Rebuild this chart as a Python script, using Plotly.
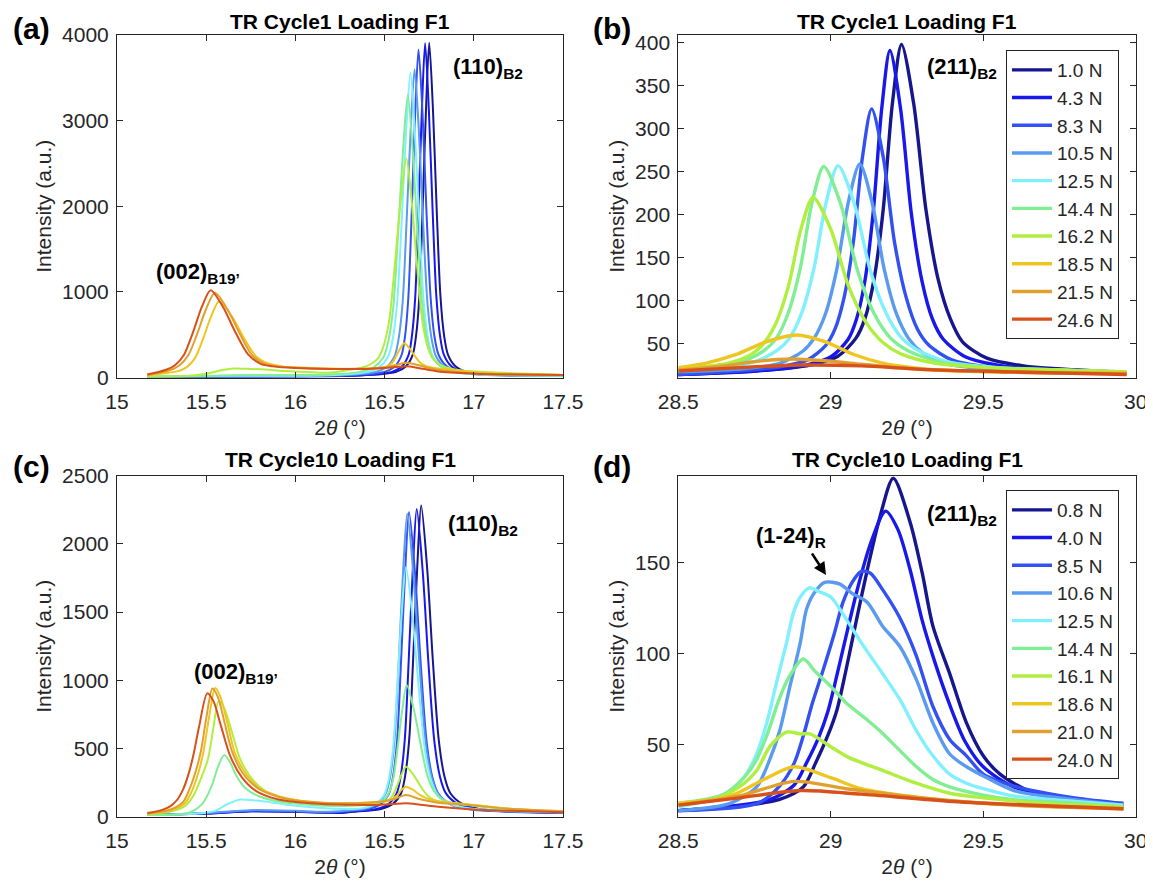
import plotly.graph_objects as go

FONT = "Liberation Sans, Arial, Helvetica, sans-serif"
PAGE_OFF = 8            # the page body margin shifts the figure by this many pixels
W, H = 1153 - PAGE_OFF, 883 - PAGE_OFF

COLORS = ["#16168f", "#1818ec", "#3350f0", "#5a9aef", "#80f0ff",
          "#80ee92", "#b0ee40", "#eec622", "#e0a030", "#d8501a"]
LOADS_B = ["1.0 N", "4.3 N", "8.3 N", "10.5 N", "12.5 N", "14.4 N", "16.2 N", "18.5 N", "21.5 N", "24.6 N"]
LOADS_D = ["0.8 N", "4.0 N", "8.5 N", "10.6 N", "12.5 N", "14.4 N", "16.1 N", "18.6 N", "21.0 N", "24.0 N"]

# ---------------- panel (a): TR Cycle1, 15-17.5 deg ----------------
A0_X = [15.17, 15.5, 16.0, 16.3, 16.454, 16.565, 16.62, 16.658, 16.676, 16.695, 16.713, 16.732, 16.75, 16.771, 16.792, 16.813, 16.834, 16.855, 16.897, 16.96, 17.086, 17.5]
A0_Y = [5, 8, 12, 20, 34, 66, 132, 268, 482, 950, 1963, 3131, 3910, 3131, 1963, 950, 482, 268, 132, 66, 34, 20]
A1_X = [15.17, 15.5, 16.0, 16.3, 16.431, 16.542, 16.598, 16.635, 16.653, 16.672, 16.69, 16.709, 16.727, 16.748, 16.769, 16.79, 16.811, 16.832, 16.874, 16.937, 17.063, 17.5]
A1_Y = [5, 8, 12, 20, 34, 66, 132, 268, 482, 950, 1960, 3127, 3905, 3127, 1960, 950, 482, 268, 132, 66, 34, 20]
A2_X = [15.17, 15.5, 16.0, 16.25, 16.386, 16.5, 16.557, 16.595, 16.614, 16.633, 16.652, 16.671, 16.69, 16.713, 16.735, 16.758, 16.78, 16.803, 16.848, 16.915, 17.05, 17.5]
A2_Y = [6, 10, 15, 22, 34, 65, 130, 263, 473, 931, 1923, 3067, 3830, 3067, 1923, 931, 473, 263, 130, 65, 34, 20]
A3_X = [15.17, 15.5, 16.0, 16.2, 16.308, 16.443, 16.511, 16.556, 16.578, 16.601, 16.623, 16.646, 16.668, 16.692, 16.716, 16.74, 16.764, 16.788, 16.836, 16.908, 17.052, 17.5]
A3_Y = [6, 12, 18, 24, 33, 62, 123, 248, 445, 875, 1808, 2883, 3600, 2883, 1808, 875, 445, 248, 123, 62, 33, 20]
A4_X = [15.17, 15.6, 16.0, 16.245, 16.395, 16.47, 16.52, 16.545, 16.57, 16.595, 16.62, 16.645, 16.67, 16.695, 16.72, 16.745, 16.77, 16.82, 16.895, 17.045, 17.5]
A4_Y = [5, 20, 20, 33, 61, 121, 245, 440, 866, 1788, 2851, 3560, 2851, 1788, 866, 440, 245, 121, 61, 33, 20]
A5_X = [15.17, 15.5, 15.7, 16.0, 16.19, 16.355, 16.438, 16.493, 16.52, 16.548, 16.575, 16.603, 16.63, 16.658, 16.685, 16.713, 16.74, 16.768, 16.823, 16.905, 17.07, 17.5]
A5_Y = [8, 18, 30, 28, 36, 63, 118, 233, 414, 807, 1660, 2644, 3300, 2644, 1660, 807, 414, 233, 118, 63, 36, 22]
A6_X = [15.17, 15.4, 15.5, 15.6, 15.65, 15.75, 15.85, 15.95, 16.1, 16.2, 16.297, 16.395, 16.46, 16.492, 16.525, 16.557, 16.59, 16.622, 16.652, 16.682, 16.712, 16.742, 16.772, 16.832, 16.922, 17.1, 17.5]
A6_Y = [10, 20, 45, 90, 105, 100, 90, 75, 60, 58, 88, 130, 218, 355, 655, 1305, 2055, 2560, 2055, 1305, 655, 355, 218, 130, 85, 60, 30]
A7_X = [15.17, 15.258, 15.348, 15.393, 15.438, 15.483, 15.528, 15.573, 15.643, 15.713, 15.783, 15.853, 15.93, 16.0, 16.2, 16.35, 16.475, 16.52, 16.543, 16.565, 16.588, 16.61, 16.64, 16.67, 16.7, 16.73, 16.79, 16.9, 17.05, 17.25, 17.5]
A7_Y = [25, 47, 77, 124, 229, 455, 716, 890, 716, 455, 240, 160, 130, 120, 105, 100, 109, 136, 172, 250, 340, 400, 340, 250, 172, 136, 109, 85, 55, 38, 30]
A8_X = [15.17, 15.299, 15.349, 15.399, 15.449, 15.499, 15.549, 15.619, 15.689, 15.759, 15.829, 15.9, 16.0, 16.2, 16.4, 16.5, 16.57, 16.62, 16.68, 16.75, 16.85, 17.0, 17.2, 17.5]
A8_Y = [30, 88, 141, 257, 507, 797, 990, 797, 507, 257, 160, 130, 115, 100, 105, 120, 150, 171, 150, 110, 75, 50, 38, 30]
A9_X = [15.17, 15.275, 15.325, 15.375, 15.425, 15.475, 15.525, 15.595, 15.665, 15.735, 15.805, 15.875, 16.0, 16.2, 16.4, 16.5, 16.58, 16.62, 16.68, 16.8, 17.0, 17.2, 17.5]
A9_Y = [35, 90, 144, 264, 522, 821, 1020, 821, 522, 270, 160, 130, 110, 100, 100, 110, 125, 130, 115, 70, 45, 35, 30]

# ---------------- panel (b): TR Cycle1, 28.5-30 deg ----------------
B0_X = [28.5, 28.752, 28.932, 29.022, 29.082, 29.112, 29.142, 29.172, 29.202, 29.232, 29.272, 29.312, 29.352, 29.392, 29.432, 29.512, 29.632, 29.872, 29.97]
B0_Y = [14, 18, 25, 35, 56, 79, 125, 206, 329, 398, 329, 206, 125, 79, 52, 33, 24, 18, 16]
B1_X = [28.5, 28.754, 28.919, 29.002, 29.057, 29.084, 29.112, 29.139, 29.167, 29.194, 29.229, 29.264, 29.299, 29.334, 29.369, 29.439, 29.544, 29.754, 29.97]
B1_Y = [14, 18, 25, 35, 55, 78, 123, 202, 323, 391, 323, 202, 123, 78, 55, 35, 25, 18, 16]
B2_X = [28.5, 28.654, 28.834, 28.924, 28.984, 29.014, 29.044, 29.074, 29.104, 29.134, 29.172, 29.209, 29.247, 29.284, 29.322, 29.397, 29.509, 29.734, 29.97]
B2_Y = [14, 17, 23, 31, 48, 67, 104, 168, 267, 323, 267, 168, 104, 67, 48, 31, 23, 17, 15]
B3_X = [28.5, 28.72, 28.833, 28.908, 28.945, 28.983, 29.02, 29.058, 29.095, 29.135, 29.175, 29.215, 29.255, 29.295, 29.375, 29.495, 29.735, 29.97]
B3_Y = [17, 21, 27, 41, 56, 85, 137, 215, 259, 215, 137, 85, 56, 41, 27, 21, 17, 15]
B4_X = [28.5, 28.624, 28.744, 28.824, 28.864, 28.904, 28.944, 28.984, 29.024, 29.077, 29.129, 29.182, 29.234, 29.287, 29.392, 29.549, 29.864, 29.97]
B4_Y = [19, 22, 28, 42, 56, 85, 136, 213, 257, 213, 136, 85, 56, 42, 28, 22, 18, 17]
B5_X = [28.5, 28.587, 28.704, 28.782, 28.821, 28.86, 28.899, 28.938, 28.977, 29.032, 29.087, 29.142, 29.197, 29.252, 29.362, 29.527, 29.857, 29.97]
B5_Y = [20, 22, 28, 42, 56, 85, 136, 213, 256, 213, 136, 85, 56, 42, 28, 22, 18, 17]
B6_X = [28.5, 28.542, 28.662, 28.742, 28.782, 28.822, 28.862, 28.902, 28.942, 29.0, 29.057, 29.115, 29.172, 29.23, 29.345, 29.517, 29.862, 29.97]
B6_Y = [20, 22, 27, 38, 51, 75, 118, 183, 220, 183, 118, 75, 51, 38, 27, 22, 18, 17]
B7_X = [28.5, 28.588, 28.688, 28.788, 28.888, 28.983, 29.078, 29.173, 29.268, 29.363, 29.553, 29.75, 29.97]
B7_Y = [22, 27, 37, 52, 60, 52, 37, 27, 22, 19, 17, 16, 16]
B8_X = [28.5, 28.65, 28.75, 28.87, 28.98, 29.1, 29.25, 29.45, 29.7, 29.97]
B8_Y = [19, 24, 29, 32, 30, 26, 21, 18, 16, 15]
B9_X = [28.5, 28.7, 28.9, 29.1, 29.3, 29.6, 29.97]
B9_Y = [18, 22, 25, 24, 20, 17, 14]

# ---------------- panel (c): TR Cycle10, 15-17.5 deg ----------------
C0_X = [15.17, 15.5, 15.75, 16.0, 16.25, 16.345, 16.48, 16.548, 16.593, 16.615, 16.638, 16.66, 16.683, 16.705, 16.738, 16.77, 16.803, 16.835, 16.868, 16.933, 17.03, 17.225, 17.5]
C0_Y = [15, 25, 42, 38, 30, 41, 59, 98, 176, 300, 570, 1155, 1830, 2280, 1830, 1155, 570, 300, 176, 98, 59, 41, 32]
C1_X = [15.17, 15.5, 15.75, 16.0, 16.25, 16.32, 16.455, 16.523, 16.568, 16.59, 16.613, 16.635, 16.658, 16.68, 16.713, 16.745, 16.778, 16.81, 16.843, 16.908, 17.005, 17.2, 17.5]
C1_Y = [15, 25, 42, 38, 30, 41, 59, 97, 175, 297, 564, 1142, 1810, 2255, 1810, 1142, 564, 297, 175, 97, 59, 41, 32]
C2_X = [15.17, 15.5, 15.75, 16.0, 16.2, 16.277, 16.412, 16.48, 16.525, 16.547, 16.57, 16.592, 16.615, 16.637, 16.67, 16.702, 16.735, 16.767, 16.8, 16.865, 16.962, 17.157, 17.5]
C2_Y = [15, 28, 45, 40, 33, 41, 59, 96, 173, 294, 558, 1131, 1792, 2232, 1792, 1131, 558, 294, 173, 96, 59, 41, 32]
C3_X = [15.17, 15.5, 15.75, 16.0, 16.15, 16.243, 16.387, 16.459, 16.507, 16.531, 16.555, 16.579, 16.603, 16.627, 16.661, 16.695, 16.729, 16.763, 16.797, 16.865, 16.967, 17.171, 17.5]
C3_Y = [15, 30, 50, 45, 38, 43, 60, 98, 174, 295, 557, 1126, 1782, 2220, 1782, 1126, 557, 295, 174, 98, 60, 43, 33]
C4_X = [15.17, 15.45, 15.55, 15.62, 15.69, 15.78, 15.9, 16.0, 16.15, 16.3, 16.37, 16.445, 16.495, 16.52, 16.545, 16.57, 16.595, 16.62, 16.656, 16.692, 16.728, 16.764, 16.8, 16.872, 16.98, 17.2, 17.5]
C4_Y = [15, 25, 45, 95, 128, 120, 100, 82, 65, 58, 63, 94, 156, 255, 470, 935, 1472, 1830, 1472, 935, 470, 255, 156, 94, 63, 45, 35]
C5_X = [15.17, 15.4, 15.48, 15.53, 15.57, 15.6, 15.63, 15.67, 15.72, 15.8, 15.9, 16.0, 16.2, 16.35, 16.449, 16.499, 16.524, 16.549, 16.574, 16.599, 16.624, 16.664, 16.704, 16.744, 16.784, 16.824, 16.904, 17.0, 17.2, 17.5]
C5_Y = [15, 30, 100, 226, 380, 453, 410, 300, 210, 150, 115, 98, 80, 85, 97, 128, 177, 285, 518, 786, 965, 786, 518, 285, 177, 128, 97, 82, 55, 40]
C6_X = [15.17, 15.3, 15.38, 15.43, 15.47, 15.51, 15.54, 15.57, 15.6, 15.64, 15.69, 15.75, 15.82, 15.9, 16.0, 16.15, 16.3, 16.45, 16.52, 16.545, 16.57, 16.595, 16.62, 16.66, 16.7, 16.74, 16.78, 16.82, 16.9, 17.0, 17.2, 17.5]
C6_Y = [20, 40, 80, 160, 280, 425, 650, 850, 800, 640, 425, 290, 200, 150, 120, 100, 95, 105, 123, 157, 229, 312, 368, 312, 229, 157, 123, 108, 98, 88, 60, 42]
C7_X = [15.17, 15.3, 15.38, 15.42, 15.455, 15.484, 15.515, 15.55, 15.58, 15.62, 15.66, 15.72, 15.8, 15.9, 16.0, 16.15, 16.3, 16.45, 16.52, 16.57, 16.595, 16.62, 16.66, 16.7, 16.75, 16.82, 16.9, 17.0, 17.2, 17.5]
C7_Y = [22, 45, 100, 190, 320, 472, 720, 945, 880, 680, 472, 320, 210, 155, 125, 105, 100, 110, 117, 158, 200, 222, 198, 160, 130, 112, 100, 88, 60, 42]
C8_X = [15.17, 15.3, 15.37, 15.405, 15.44, 15.47, 15.5, 15.535, 15.565, 15.605, 15.645, 15.705, 15.79, 15.9, 16.0, 16.15, 16.3, 16.45, 16.55, 16.62, 16.7, 16.8, 16.9, 17.0, 17.2, 17.5]
C8_Y = [25, 55, 110, 200, 330, 480, 720, 940, 880, 680, 480, 320, 210, 150, 122, 105, 100, 108, 130, 161, 130, 105, 95, 85, 60, 40]
C9_X = [15.17, 15.25, 15.3, 15.34, 15.37, 15.4, 15.428, 15.46, 15.506, 15.54, 15.58, 15.633, 15.7, 15.78, 15.9, 16.0, 16.15, 16.3, 16.45, 16.55, 16.62, 16.7, 16.8, 17.0, 17.2, 17.5]
C9_Y = [30, 50, 80, 130, 200, 310, 452, 660, 905, 850, 680, 452, 290, 190, 130, 110, 95, 90, 88, 95, 100, 90, 75, 55, 45, 35]

# ---------------- panel (d): TR Cycle10, 28.5-30 deg ----------------
D0_X = [28.5, 28.67, 28.83, 28.91, 28.95, 28.99, 29.02, 29.05, 29.085, 29.12, 29.16, 29.205, 29.26, 29.3, 29.335, 29.39, 29.445, 29.5, 29.555, 29.66, 29.83, 29.96]
D0_Y = [14, 16, 20, 27, 40, 55, 69, 91, 119, 146, 174, 196, 172, 144, 115, 89, 62, 44, 34, 24, 19, 17]
D1_X = [28.5, 28.65, 28.8, 28.88, 28.92, 28.96, 28.99, 29.02, 29.055, 29.09, 29.13, 29.18, 29.22, 29.26, 29.3, 29.34, 29.39, 29.44, 29.5, 29.6, 29.8, 29.96]
D1_Y = [14, 16, 20, 28, 40, 54, 68, 88, 113, 137, 160, 178, 168, 146, 118, 96, 72, 52, 38, 27, 20, 17]
D2_X = [28.5, 28.76, 28.83, 28.88, 28.91, 28.94, 28.975, 29.01, 29.04, 29.07, 29.1, 29.13, 29.17, 29.225, 29.28, 29.335, 29.39, 29.445, 29.5, 29.61, 29.8, 29.96]
D2_Y = [14, 18, 27, 40, 55, 73, 91, 110, 128, 139, 145, 144, 135, 120, 99, 71, 53, 44, 34, 27, 21, 18]
D3_X = [28.5, 28.67, 28.757, 28.8, 28.833, 28.866, 28.9, 28.92, 28.945, 28.98, 29.03, 29.07, 29.12, 29.17, 29.226, 29.28, 29.335, 29.39, 29.445, 29.5, 29.6, 29.8, 29.96]
D3_Y = [14, 18, 27, 42, 58, 82, 106, 124, 133, 139, 138, 133, 128, 115, 104, 86, 62, 45, 38, 33, 25, 20, 17]
D4_X = [28.5, 28.64, 28.71, 28.757, 28.79, 28.822, 28.855, 28.877, 28.9, 28.93, 28.96, 29.0, 29.05, 29.1, 29.17, 29.226, 29.28, 29.335, 29.39, 29.445, 29.5, 29.6, 29.8, 29.96]
D4_Y = [16, 22, 31, 45, 62, 84, 106, 122, 131, 136, 134, 131, 119, 106, 89, 75, 58, 44, 34, 29, 26, 22, 19, 17]
D5_X = [28.5, 28.65, 28.72, 28.757, 28.79, 28.833, 28.866, 28.91, 28.95, 29.0, 29.05, 29.117, 29.172, 29.226, 29.281, 29.335, 29.39, 29.5, 29.6, 29.8, 29.96]
D5_Y = [18, 23, 33, 42, 55, 76, 88, 97, 90, 82, 73, 64, 56, 47, 38, 31, 27, 22.5, 20, 18, 16]
D6_X = [28.5, 28.615, 28.7, 28.757, 28.8, 28.855, 28.9, 28.932, 29.0, 29.06, 29.17, 29.28, 29.39, 29.5, 29.7, 29.96]
D6_Y = [17, 20, 27, 36, 49, 57, 56, 56, 49, 43, 36, 29, 23.5, 21, 18, 16]
D7_X = [28.5, 28.67, 28.78, 28.88, 29.0, 29.1, 29.3, 29.5, 29.96]
D7_Y = [18, 22, 31, 38, 32, 26, 21, 18, 15]
D8_X = [28.5, 28.7, 28.88, 29.05, 29.3, 29.6, 29.96]
D8_Y = [17, 22, 30, 26, 21, 17, 15]
D9_X = [28.5, 28.7, 28.9, 29.1, 29.4, 29.96]
D9_Y = [17, 21, 25, 23, 19, 15]

A_X = [A0_X, A1_X, A2_X, A3_X, A4_X, A5_X, A6_X, A7_X, A8_X, A9_X]
A_Y = [A0_Y, A1_Y, A2_Y, A3_Y, A4_Y, A5_Y, A6_Y, A7_Y, A8_Y, A9_Y]
B_X = [B0_X, B1_X, B2_X, B3_X, B4_X, B5_X, B6_X, B7_X, B8_X, B9_X]
B_Y = [B0_Y, B1_Y, B2_Y, B3_Y, B4_Y, B5_Y, B6_Y, B7_Y, B8_Y, B9_Y]
C_X = [C0_X, C1_X, C2_X, C3_X, C4_X, C5_X, C6_X, C7_X, C8_X, C9_X]
C_Y = [C0_Y, C1_Y, C2_Y, C3_Y, C4_Y, C5_Y, C6_Y, C7_Y, C8_Y, C9_Y]
D_X = [D0_X, D1_X, D2_X, D3_X, D4_X, D5_X, D6_X, D7_X, D8_X, D9_X]
D_Y = [D0_Y, D1_Y, D2_Y, D3_Y, D4_Y, D5_Y, D6_Y, D7_Y, D8_Y, D9_Y]


def pxx(x):
    return (x - PAGE_OFF) / W


def pyy(y):
    return 1 - (y - PAGE_OFF) / H


fig = go.Figure()

panels = [
    (A_X, A_Y, "x", "y", 2.0, None, None),
    (B_X, B_Y, "x2", "y2", 3.4, LOADS_B, "legend"),
    (C_X, C_Y, "x3", "y3", 2.0, None, None),
    (D_X, D_Y, "x4", "y4", 3.4, LOADS_D, "legend2"),
]
for xs, ys, xa, ya, lw, names, leg in panels:
    for i in range(10):
        fig.add_trace(go.Scatter(
            x=xs[i], y=ys[i], mode="lines", xaxis=xa, yaxis=ya,
            line=dict(color=COLORS[i], width=lw, shape="spline", smoothing=0.8),
            name=names[i] if names else "trace",
            showlegend=names is not None,
            legend=leg if leg else "legend",
            hoverinfo="x+y",
        ))

TICKFONT = dict(family=FONT, size=21, color="#262626")
TITLEFONT = dict(family=FONT, size=21, color="#262626")
common = dict(showline=True, linecolor="#262626", linewidth=1, mirror="ticks",
              ticks="inside", ticklen=6, tickcolor="#262626", tickwidth=1,
              tickfont=TICKFONT, showgrid=False, zeroline=False, automargin=False)
xcommon = dict(ticklabelstandoff=5, **common)
ycommon = dict(ticklabelstandoff=3, **common)

XL = [pxx(117), pxx(563)]
XR = [pxx(678.3), pxx(1135.7)]
YT = [pyy(377.5), pyy(35)]
YB = [pyy(817), pyy(475.5)]
xtitle = dict(text="2<i>θ</i> (°)", font=TITLEFONT, standoff=8)
ytitle = dict(text="Intensity (a.u.)", font=TITLEFONT, standoff=4)

fig.update_layout(
    width=W, height=H, margin=dict(l=0, r=0, t=0, b=0),
    paper_bgcolor="white", plot_bgcolor="white",
    font=dict(family=FONT, color="#262626"),
    xaxis=dict(domain=XL, anchor="y", range=[15, 17.5], tickvals=[15, 15.5, 16, 16.5, 17, 17.5], title=xtitle, **xcommon),
    yaxis=dict(domain=YT, anchor="x", range=[0, 4000], tickvals=[0, 1000, 2000, 3000, 4000], title=ytitle, **ycommon),
    xaxis2=dict(domain=XR, anchor="y2", range=[28.5, 30], tickvals=[28.5, 29, 29.5, 30], title=xtitle, **xcommon),
    yaxis2=dict(domain=YT, anchor="x2", range=[10.5, 409], tickvals=[50, 100, 150, 200, 250, 300, 350, 400], title=ytitle, **ycommon),
    xaxis3=dict(domain=XL, anchor="y3", range=[15, 17.5], tickvals=[15, 15.5, 16, 16.5, 17, 17.5], title=xtitle, **xcommon),
    yaxis3=dict(domain=YB, anchor="x3", range=[0, 2500], tickvals=[0, 500, 1000, 1500, 2000, 2500], title=ytitle, **ycommon),
    xaxis4=dict(domain=XR, anchor="y4", range=[28.5, 30], tickvals=[28.5, 29, 29.5, 30], title=xtitle, **xcommon),
    yaxis4=dict(domain=YB, anchor="x4", range=[10.5, 197.5], tickvals=[50, 100, 150], title=ytitle, **ycommon),
    legend=dict(x=pxx(1006), y=pyy(50), xanchor="left", yanchor="top", bgcolor="white",
                bordercolor="#262626", borderwidth=1, font=dict(family=FONT, size=19, color="#262626"),
                tracegroupgap=0, itemwidth=40),
    legend2=dict(x=pxx(1006), y=pyy(490), xanchor="left", yanchor="top", bgcolor="white",
                 bordercolor="#262626", borderwidth=1, font=dict(family=FONT, size=19, color="#262626"),
                 tracegroupgap=0, itemwidth=40),
)

ann = []
# titles
for cx, cy, t in [(340, 21, "TR Cycle1 Loading F1"), (907, 21, "TR Cycle1 Loading F1"),
                  (340, 459, "TR Cycle10 Loading F1"), (907, 459, "TR Cycle10 Loading F1")]:
    ann.append(dict(x=pxx(cx), y=pyy(cy), xref="paper", yref="paper", text="<b>%s</b>" % t,
                    showarrow=False, font=dict(family=FONT, size=21, color="black"),
                    xanchor="center", yanchor="middle"))
# panel labels
for cx, cy, t in [(31, 28, "(a)"), (612, 28, "(b)"), (31, 466, "(c)"), (612, 466, "(d)")]:
    ann.append(dict(x=pxx(cx), y=pyy(cy), xref="paper", yref="paper", text="<b>%s</b>" % t,
                    showarrow=False, font=dict(family=FONT, size=30, color="black"),
                    xanchor="center", yanchor="middle"))
# peak labels
for cx, cy, t in [(198, 273, "(002)<sub>B19’</sub>"), (488, 68, "(110)<sub>B2</sub>"),
                  (962, 68, "(211)<sub>B2</sub>"), (236, 673, "(002)<sub>B19’</sub>"),
                  (483, 525, "(110)<sub>B2</sub>"), (791, 537, "(1-24)<sub>R</sub>"),
                  (962, 515, "(211)<sub>B2</sub>")]:
    ann.append(dict(x=pxx(cx), y=pyy(cy), xref="paper", yref="paper", text="<b>%s</b>" % t,
                    showarrow=False, font=dict(family=FONT, size=22, color="black"),
                    xanchor="center", yanchor="middle"))
# arrow in (d)
ann.append(dict(x=pxx(826), y=pyy(575), xref="paper", yref="paper", ax=-15, ay=-23,
                text="", showarrow=True,
                arrowhead=2, arrowsize=1, arrowwidth=2.5, arrowcolor="black"))
fig.update_layout(annotations=ann)

fig.write_html("out.html")
